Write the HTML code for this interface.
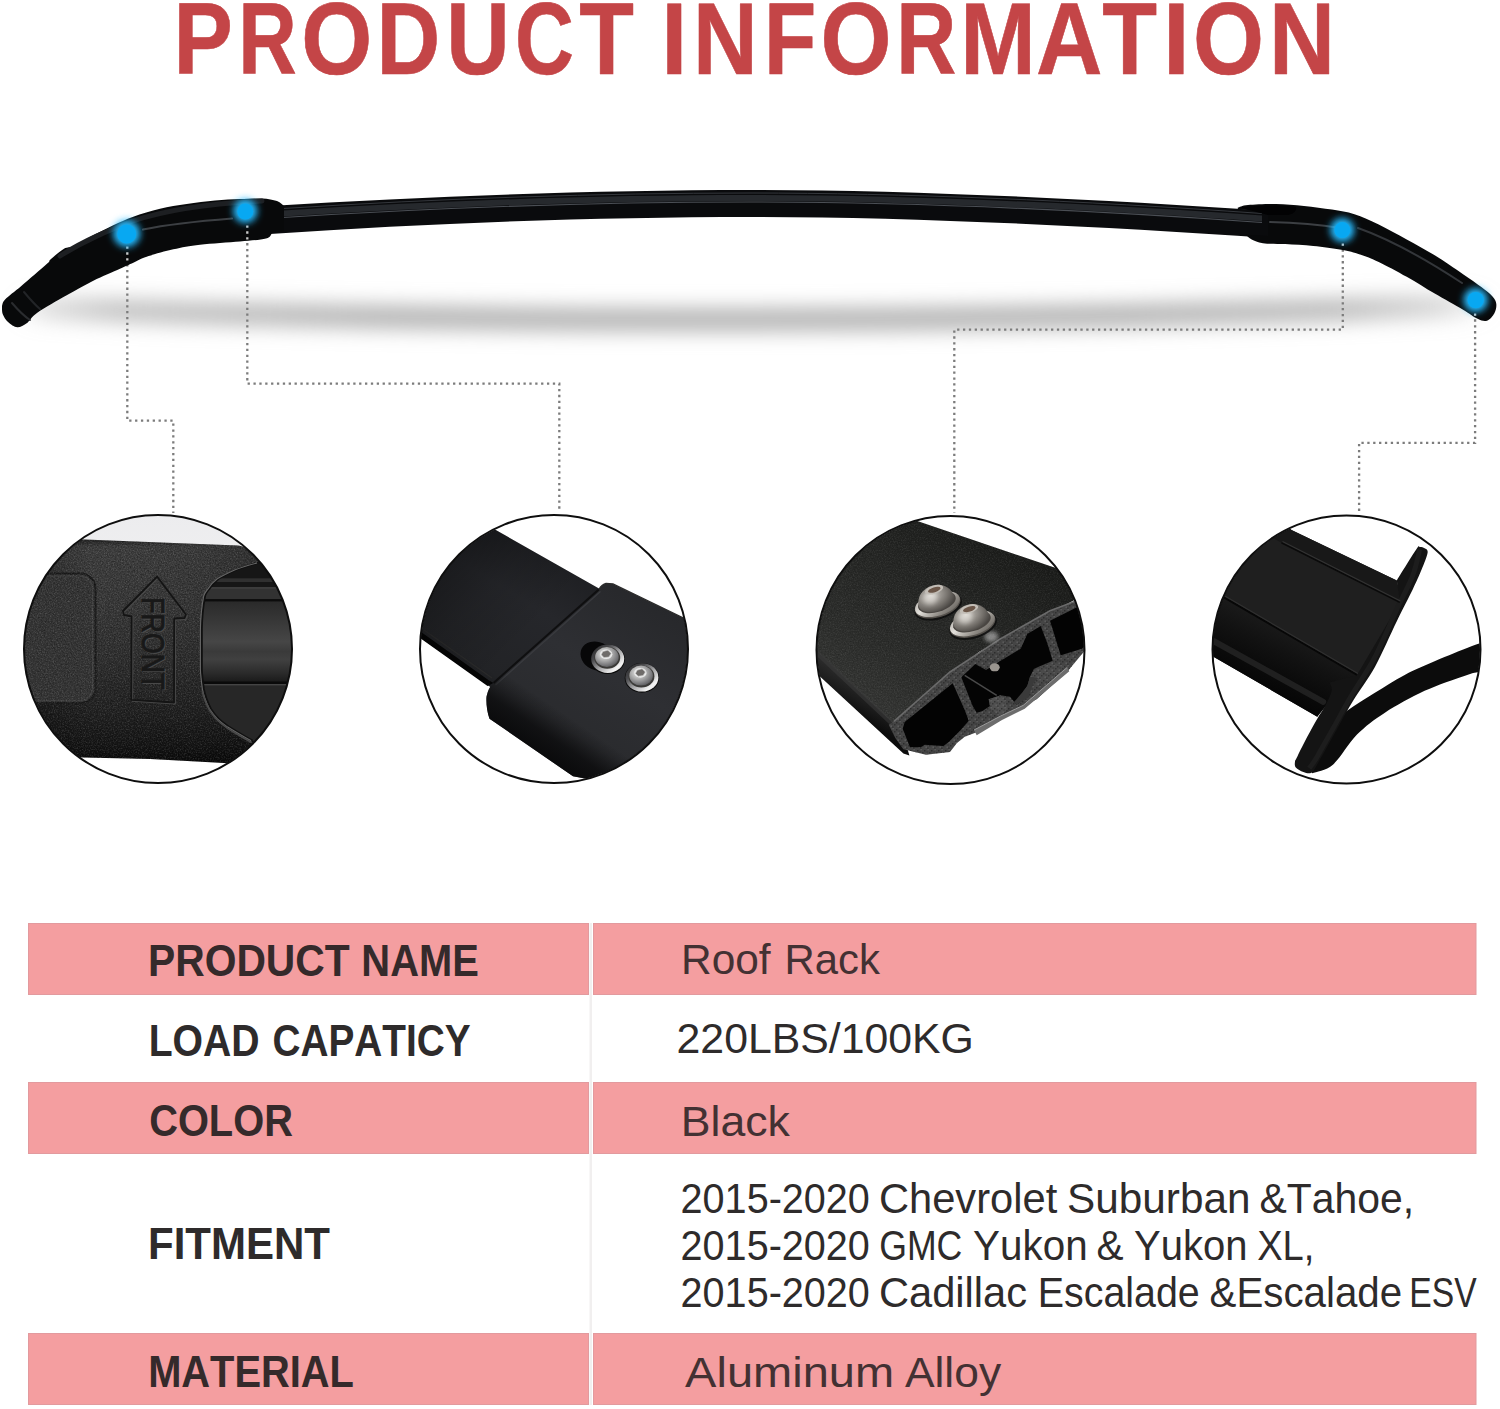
<!DOCTYPE html>
<html lang="en">
<head>
<meta charset="utf-8">
<title>Product Information - Roof Rack</title>
<style>
  html, body { margin: 0; padding: 0; background: #ffffff; }
  body { width: 1500px; height: 1409px; overflow: hidden; font-family: "Liberation Sans", sans-serif; }
  svg { display: block; position: absolute; left: 0; top: 0; }
  text { font-family: "Liberation Sans", sans-serif; font-kerning: none; }
  .lbl { font-weight: bold; font-size: 43.6px; fill: #2e2b2b; }
  .val { font-weight: normal; font-size: 42px; fill: #2e2b2b; }
  .valp { fill: #433133; }
  .lblp { fill: #352a2b; }
</style>
</head>
<body>
<svg width="1500" height="1409" viewBox="0 0 1500 1409">
  <defs>
    <!-- SHADOW -->
    <linearGradient id="shadowGrad" gradientUnits="userSpaceOnUse" x1="30" y1="0" x2="1480" y2="0">
      <stop offset="0" stop-color="#b3b3b3" stop-opacity="0.35"/>
      <stop offset="0.06" stop-color="#b3b3b3" stop-opacity="0.8"/>
      <stop offset="0.25" stop-color="#b3b3b3" stop-opacity="1"/>
      <stop offset="0.75" stop-color="#b3b3b3" stop-opacity="1"/>
      <stop offset="0.9" stop-color="#b3b3b3" stop-opacity="0.9"/>
      <stop offset="0.97" stop-color="#b3b3b3" stop-opacity="0.55"/>
      <stop offset="1" stop-color="#b3b3b3" stop-opacity="0.15"/>
    </linearGradient>
    <filter id="blurShadow" filterUnits="userSpaceOnUse" x="-60" y="230" width="1620" height="170">
      <feGaussianBlur stdDeviation="14 10"/>
    </filter>
    <filter id="glow" x="-100%" y="-100%" width="300%" height="300%">
      <feGaussianBlur stdDeviation="3.6"/>
    </filter>
    <radialGradient id="dot">
      <stop offset="0" stop-color="#0aa8f5"/>
      <stop offset="0.55" stop-color="#0aa4f2"/>
      <stop offset="0.8" stop-color="#1ab0f6" stop-opacity="0.75"/>
      <stop offset="1" stop-color="#39c0ff" stop-opacity="0"/>
    </radialGradient>
    <!-- GRAIN -->
    <filter id="grainL" x="0" y="0" width="100%" height="100%" color-interpolation-filters="sRGB">
      <feTurbulence type="fractalNoise" baseFrequency="0.75" numOctaves="2" seed="7" result="n"/>
      <feColorMatrix in="n" type="matrix" values="0 0 0 0 1  0 0 0 0 1  0 0 0 0 1  2.2 0 0 0 -0.95"/>
    </filter>
    <filter id="grainD" x="0" y="0" width="100%" height="100%" color-interpolation-filters="sRGB">
      <feTurbulence type="fractalNoise" baseFrequency="0.7" numOctaves="2" seed="23" result="n"/>
      <feColorMatrix in="n" type="matrix" values="0 0 0 0 0  0 0 0 0 0  0 0 0 0 0  2.2 0 0 0 -0.95"/>
    </filter>
    <clipPath id="c1bodyclip"><path d="M20,539 L85,539.5 L238,545.5 C250,547.5 258,555 262,562 L300,580 L300,772 L224,763 L150,759 L83,757.5 L20,752 Z"/></clipPath>
    <!-- C1DEFS -->
    <linearGradient id="c1bg" x1="0" y1="0" x2="0" y2="1">
      <stop offset="0" stop-color="#ececee"/><stop offset="0.2" stop-color="#efeff0"/><stop offset="0.8" stop-color="#f6f6f6"/><stop offset="0.9" stop-color="#ffffff"/>
    </linearGradient>
    <linearGradient id="c1body" gradientUnits="userSpaceOnUse" x1="0" y1="539" x2="0" y2="762">
      <stop offset="0" stop-color="#202020"/><stop offset="0.035" stop-color="#3e3e3e"/><stop offset="0.3" stop-color="#383838"/><stop offset="0.55" stop-color="#2e2e2e"/><stop offset="0.78" stop-color="#202020"/><stop offset="0.93" stop-color="#141414"/><stop offset="1" stop-color="#0a0a0a"/>
    </linearGradient>
    <linearGradient id="c1side" gradientUnits="userSpaceOnUse" x1="20" y1="0" x2="300" y2="0">
      <stop offset="0" stop-color="#000" stop-opacity="0.35"/><stop offset="0.25" stop-color="#000" stop-opacity="0"/><stop offset="0.6" stop-color="#000" stop-opacity="0.05"/><stop offset="1" stop-color="#000" stop-opacity="0.3"/>
    </linearGradient>
    <linearGradient id="c1rail" gradientUnits="userSpaceOnUse" x1="0" y1="601.5" x2="0" y2="682">
      <stop offset="0" stop-color="#2a2a2a"/><stop offset="0.2" stop-color="#353535"/><stop offset="0.5" stop-color="#464646"/><stop offset="0.62" stop-color="#3a3a3a"/><stop offset="0.72" stop-color="#404040"/><stop offset="0.88" stop-color="#2c2c2c"/><stop offset="1" stop-color="#1a1a1a"/>
    </linearGradient>
    <clipPath id="c1openclip"><path d="M300,550 L258.5,562.7 C250,565 243,567 236.6,569.6 C229,573 223,576 218.7,578.6 C214,582 211,586 208.8,589.5 C206,593 205,595 204.8,597.4 C203,607 202,618 201.8,629.2 L201.8,669 C202,676 203,683 203.8,688.9 C205,696 208,703 210.8,708.7 C213,712 216,716 218.7,718.7 C222,722 225,724 228.7,726.6 C236,731 244,736 252.5,740.5 L300,760 Z"/></clipPath>
    <linearGradient id="c2front" gradientUnits="userSpaceOnUse" x1="528" y1="749" x2="556" y2="708">
      <stop offset="0" stop-color="#050506" stop-opacity="0.8"/><stop offset="0.45" stop-color="#050506" stop-opacity="0.62"/><stop offset="0.8" stop-color="#050506" stop-opacity="0.2"/><stop offset="1" stop-color="#050506" stop-opacity="0"/>
    </linearGradient>
    <linearGradient id="c2raildark" gradientUnits="userSpaceOnUse" x1="440" y1="520" x2="540" y2="620">
      <stop offset="0" stop-color="#000" stop-opacity="0.45"/><stop offset="0.6" stop-color="#000" stop-opacity="0.12"/><stop offset="1" stop-color="#000" stop-opacity="0"/>
    </linearGradient>
    <!-- C2DEFS -->
    <linearGradient id="c2rail" gradientUnits="userSpaceOnUse" x1="560" y1="540" x2="470" y2="690">
      <stop offset="0" stop-color="#1c1d20"/><stop offset="0.4" stop-color="#26272b"/><stop offset="0.85" stop-color="#222326"/><stop offset="1" stop-color="#17181a"/>
    </linearGradient>
    <linearGradient id="c2br" gradientUnits="userSpaceOnUse" x1="640" y1="590" x2="540" y2="760">
      <stop offset="0" stop-color="#27282b"/><stop offset="0.45" stop-color="#2e2f33"/><stop offset="0.8" stop-color="#2a2b2e"/><stop offset="1" stop-color="#1d1e20"/>
    </linearGradient>
    <linearGradient id="scrRing" x1="0" y1="0" x2="1" y2="1">
      <stop offset="0" stop-color="#1f1f21"/><stop offset="0.3" stop-color="#4a4a4d"/><stop offset="0.55" stop-color="#a9a9ab"/><stop offset="0.8" stop-color="#f4f4f4"/><stop offset="1" stop-color="#c9c9c9"/>
    </linearGradient>
    <radialGradient id="scrHead" cx="0.4" cy="0.35" r="0.75">
      <stop offset="0" stop-color="#f4f4f4"/><stop offset="0.4" stop-color="#b3b3b3"/><stop offset="0.75" stop-color="#77777a"/><stop offset="1" stop-color="#4a4a4c"/>
    </radialGradient>
    <clipPath id="c3topclip"><path d="M869.6,490.1 L917.3,520.9 L1054.4,567.6 L1092.2,585.5 L1077.3,598.4 L978.9,652.1 L895.5,725.6 L814.0,649.1 L800.1,609.4 Z"/></clipPath>
    <!-- C3DEFS -->
    <linearGradient id="c3top" gradientUnits="userSpaceOnUse" x1="1000" y1="530" x2="880" y2="720">
      <stop offset="0" stop-color="#1b1c1a"/><stop offset="0.35" stop-color="#242523"/><stop offset="0.75" stop-color="#2d2e2c"/><stop offset="1" stop-color="#363735"/>
    </linearGradient>
    <linearGradient id="c3side" gradientUnits="userSpaceOnUse" x1="870" y1="690" x2="855" y2="715">
      <stop offset="0" stop-color="#2a2a2a"/><stop offset="0.5" stop-color="#1c1c1c"/><stop offset="1" stop-color="#0c0c0c"/>
    </linearGradient>
    <linearGradient id="dFl" x1="0" y1="0" x2="1" y2="1">
      <stop offset="0" stop-color="#a8a49e"/><stop offset="0.35" stop-color="#e2dfda"/><stop offset="0.7" stop-color="#8f8b85"/><stop offset="1" stop-color="#5a5651"/>
    </linearGradient>
    <radialGradient id="dDome" cx="0.4" cy="0.35" r="0.75">
      <stop offset="0" stop-color="#d6d3ce"/><stop offset="0.3" stop-color="#a39f99"/><stop offset="0.65" stop-color="#726e69"/><stop offset="1" stop-color="#3f3c39"/>
    </radialGradient>
    <filter id="soft2" x="-50%" y="-50%" width="200%" height="200%"><feGaussianBlur stdDeviation="2"/></filter>
    <pattern id="spk" width="7" height="7" patternUnits="userSpaceOnUse">
      <rect width="7" height="7" fill="none"/>
      <rect x="0" y="1" width="1.5" height="1.5" fill="#1c1c1c"/><rect x="3.5" y="0" width="1.300" height="1.300" fill="#6e6e6e"/>
      <rect x="5" y="3" width="1.5" height="1.5" fill="#222"/><rect x="1.5" y="4.500" width="1.400" height="1.400" fill="#707070"/>
      <rect x="3.200" y="5.500" width="1.300" height="1.300" fill="#1a1a1a"/><rect x="2.500" y="2.400" width="1.200" height="1.200" fill="#262626"/>
    </pattern>
    <!-- C4DEFS -->
    <linearGradient id="c4low" gradientUnits="userSpaceOnUse" x1="1290" y1="630" x2="1262" y2="688">
      <stop offset="0" stop-color="#1a1a1a"/><stop offset="0.35" stop-color="#121212"/><stop offset="0.7" stop-color="#0b0b0b"/><stop offset="1" stop-color="#060606"/>
    </linearGradient>
    <clipPath id="c1"><circle cx="158" cy="649" r="133.5"/></clipPath>
    <clipPath id="c2"><circle cx="554" cy="649" r="133.5"/></clipPath>
    <clipPath id="c3"><circle cx="950.5" cy="650" r="133.5"/></clipPath>
    <clipPath id="c4"><circle cx="1346.5" cy="649.5" r="133.5"/></clipPath>
  </defs>

  <!-- TITLE -->
  <g id="title" font-size="101.6" font-weight="bold" fill="#c44547" stroke="#c44547" stroke-width="0.6" stroke-linejoin="round">
    <text x="173.45" y="73.5" textLength="59.28" lengthAdjust="spacingAndGlyphs">P</text>
    <text x="238.18" y="73.5" textLength="58.48" lengthAdjust="spacingAndGlyphs">R</text>
    <text x="301.26" y="73.5" textLength="70.97" lengthAdjust="spacingAndGlyphs">O</text>
    <text x="376.4" y="73.5" textLength="63.71" lengthAdjust="spacingAndGlyphs">D</text>
    <text x="446.32" y="73.5" textLength="63.44" lengthAdjust="spacingAndGlyphs">U</text>
    <text x="515.06" y="73.5" textLength="58.87" lengthAdjust="spacingAndGlyphs">C</text>
    <text x="579.29" y="73.5" textLength="54.67" lengthAdjust="spacingAndGlyphs">T</text>
    <text x="661.23" y="73.5" textLength="26.04" lengthAdjust="spacingAndGlyphs">I</text>
    <text x="693.0" y="73.5" textLength="64.74" lengthAdjust="spacingAndGlyphs">N</text>
    <text x="763.88" y="73.5" textLength="52.26" lengthAdjust="spacingAndGlyphs">F</text>
    <text x="820.56" y="73.5" textLength="70.97" lengthAdjust="spacingAndGlyphs">O</text>
    <text x="896.14" y="73.5" textLength="60.07" lengthAdjust="spacingAndGlyphs">R</text>
    <text x="960.23" y="73.5" textLength="75.53" lengthAdjust="spacingAndGlyphs">M</text>
    <text x="1036.01" y="73.5" textLength="66.52" lengthAdjust="spacingAndGlyphs">A</text>
    <text x="1102.29" y="73.5" textLength="54.77" lengthAdjust="spacingAndGlyphs">T</text>
    <text x="1163.09" y="73.5" textLength="26.62" lengthAdjust="spacingAndGlyphs">I</text>
    <text x="1192.96" y="73.5" textLength="70.97" lengthAdjust="spacingAndGlyphs">O</text>
    <text x="1268.98" y="73.5" textLength="66.09" lengthAdjust="spacingAndGlyphs">N</text>
  </g>

  <!-- BAR-SHADOW -->
  <g id="barshadow">
    <g filter="url(#blurShadow)">
      <path d="M40,308 Q750,333 1470,305" fill="none" stroke="url(#shadowGrad)" stroke-width="23" stroke-linecap="round"/>
    </g>
  </g>

  <!-- CALLOUT-LINES -->
  <g id="lines" fill="none" stroke="#7c7c7c" stroke-width="2.3" stroke-dasharray="2.3 3.57">
    <path d="M127.3,246.5 V420.7 H173.3 V513"/>
    <path d="M247.3,225.5 V383.7 H559.3 V512"/>
    <path d="M1342.8,243.5 V329.7 H954.3 V513"/>
    <path d="M1475.1,313.5 V442.8 H1359.1 V512.5"/>
  </g>

  <!-- BAR -->
  <g id="bar">
    <!-- main rail -->
    <path d="M270,206 C430,196 600,190 750,190 C900,190 1080,198 1270,211 L1270,238 C1080,225 900,217 750,217 C600,217 430,223 270,234 Z" fill="#0a0b0d"/>
    <path d="M283,210.5 C440,200.5 600,195 750,195 C900,195 1080,202.5 1262,215.5 L1262,221.5 C1080,208.5 900,201 750,201 C600,201 440,206.5 283,216.5 Z" fill="#26292d"/>
    <path d="M283,217.5 C440,207.5 600,202 750,202 C900,202 1080,209.5 1262,222.5" fill="none" stroke="#4a4e54" stroke-width="1.2"/>
    <path d="M283,208.5 C440,198.5 600,193 750,193 C900,193 1080,200.5 1262,213.5" fill="none" stroke="#34373c" stroke-width="1"/>
    <!-- left foot -->
    <path d="M2.0,306.0 C2.5,304.9 2.1,302.6 5.3,299.3 C8.5,296.0 14.4,291.9 21.3,286.0 C28.2,280.1 41.8,268.4 46.7,264.0 C51.6,259.6 47.8,261.9 50.7,259.3 C53.6,256.8 60.0,250.9 64.0,248.7 C68.0,246.5 69.8,248.2 74.7,246.0 C79.6,243.8 86.9,238.8 93.3,235.3 C99.7,231.9 106.6,228.4 113.3,225.3 C120.0,222.2 125.5,219.5 133.3,216.7 C141.1,213.9 151.1,210.8 160.0,208.7 C168.9,206.6 177.5,205.4 186.7,204.0 C195.9,202.6 206.1,201.3 215.0,200.5 C223.9,199.7 232.2,199.3 240.0,199.0 C247.8,198.7 255.8,198.2 262.0,198.5 C268.2,198.8 273.3,199.8 277.0,201.0 C280.7,202.2 282.8,205.2 284.0,206.0 L284,231 L272.0,233.0 C271.0,233.9 271.3,237.1 266.0,238.5 C260.7,239.9 251.0,240.5 240.0,241.5 C229.0,242.5 211.1,243.4 200.0,244.7 C188.9,246.0 182.2,247.3 173.3,249.3 C164.4,251.3 153.4,254.5 146.7,256.7 C140.0,258.9 137.8,260.7 133.3,262.7 C128.9,264.7 126.7,265.7 120.0,268.7 C113.3,271.7 102.2,276.3 93.3,280.7 C84.4,285.1 76.0,290.0 66.7,295.3 C57.4,300.6 44.0,308.0 37.3,312.7 C30.6,317.4 30.0,320.9 26.7,323.3 C23.4,325.7 20.4,327.5 17.3,327.3 C14.2,327.1 10.4,324.2 8.0,322.0 C5.6,319.8 3.7,316.7 2.7,314.0 C1.7,311.3 2.1,307.3 2.0,306.0 Z" fill="#08090a"/>
    <path d="M60,256 C85,240 110,230 133,221 C160,212 200,204 262,201" fill="none" stroke="#1d1f22" stroke-width="5" stroke-linecap="round"/>
    <path d="M143,229.5 C170,224 200,221 232,218.5" fill="none" stroke="#3c3f43" stroke-width="2.2" stroke-linecap="round"/>
    <path d="M12,303 C18,310 24,316 30,320" fill="none" stroke="#2a2c2f" stroke-width="2" stroke-linecap="round"/>
    <path d="M24,292 C29,298 34,304 40,309" fill="none" stroke="#222427" stroke-width="2" stroke-linecap="round"/>
    <!-- right foot -->
    <path d="M1237.7,207.7 C1239.4,207.2 1241.6,205.6 1248.0,205.0 C1254.4,204.4 1266.7,203.8 1276.0,204.0 C1285.3,204.2 1294.7,205.0 1304.0,205.9 C1313.3,206.8 1323.6,208.2 1332.0,209.6 C1340.4,211.0 1346.6,211.8 1354.4,214.3 C1362.2,216.8 1370.0,220.3 1378.7,224.5 C1387.4,228.7 1397.4,234.4 1406.7,239.5 C1416.0,244.6 1425.4,249.6 1434.7,255.3 C1444.0,261.1 1454.9,268.7 1462.7,274.0 C1470.5,279.3 1476.3,283.3 1481.3,287.0 C1486.3,290.7 1490.0,293.6 1492.5,296.4 C1495.0,299.2 1496.0,301.1 1496.3,303.9 C1496.6,306.7 1496.0,310.4 1494.4,313.2 C1492.9,316.0 1489.8,319.8 1487.0,320.7 C1484.2,321.6 1481.6,320.7 1477.6,318.8 C1473.5,316.9 1469.8,313.7 1462.7,309.5 C1455.6,305.3 1444.0,299.1 1434.7,293.6 C1425.4,288.2 1416.0,282.1 1406.7,276.8 C1397.4,271.5 1386.5,265.6 1378.7,261.9 C1370.9,258.2 1366.2,256.4 1360.0,254.4 C1353.8,252.4 1349.1,251.1 1341.3,249.7 C1333.5,248.3 1322.6,246.9 1313.3,246.0 C1304.0,245.1 1293.7,244.6 1285.3,244.1 C1276.9,243.6 1268.6,244.0 1263.0,243.2 C1257.4,242.4 1254.5,240.9 1251.7,239.5 C1248.9,238.1 1247.0,235.6 1246.0,234.8 L1268,236 L1268,211 L1238,209.5 Z" fill="#08090a"/>
    <path d="M1270,222 C1295,222.5 1320,224.5 1340,228" fill="none" stroke="#3c3f43" stroke-width="2" stroke-linecap="round"/>
    <path d="M1358,228 C1395,241 1430,262 1462,283" fill="none" stroke="#33363a" stroke-width="2" stroke-linecap="round"/>
    <path d="M1240,207.5 C1260,205 1280,205 1296,207 C1297,211 1293,214 1288,215 L1268,215 Z" fill="#020203"/>
  </g>

  <g id="linesOver" fill="none" stroke="#c9c9c9" stroke-width="2.3" stroke-dasharray="2.3 3.57">
    <path d="M127.3,246.5 V264"/>
    <path d="M247.3,225.5 V240"/>
    <path d="M1342.8,243.5 V249"/>
    <path d="M1475.1,313.5 V318"/>
  </g>
  <!-- DOTS -->
  <g id="dots">
    <g filter="url(#glow)" fill="#25b9fc">
      <circle cx="126.7" cy="233.5" r="13.5"/>
      <circle cx="245.3" cy="211" r="12"/>
      <circle cx="1342.3" cy="230" r="12"/>
      <circle cx="1475.7" cy="300" r="12"/>
    </g>
    <g fill="#08a8f2">
      <circle cx="126.7" cy="234" r="9.5"/>
      <circle cx="245.3" cy="211.5" r="8"/>
      <circle cx="1342.3" cy="230.1" r="8"/>
      <circle cx="1475.7" cy="300.1" r="8.2"/>
    </g>
  </g>

  <!-- CIRCLE-1 -->
  <g id="circle1">
    <g clip-path="url(#c1)">
      <rect x="20" y="510" width="280" height="280" fill="url(#c1bg)"/>
      <!-- foot body -->
      <path d="M20,539 L85,539.5 L238,545.5 C250,547.5 258,555 262,562 L300,580 L300,772 L224,763 L150,759 L83,757.5 L20,752 Z" fill="url(#c1body)"/>
      <path d="M20,539 L85,539.5 L238,545.5 C250,547.5 258,555 262,562 L300,580 L300,772 L224,763 L150,759 L83,757.5 L20,752 Z" fill="url(#c1side)"/>
      <!-- left pad -->
      <rect x="0" y="573.6" width="95.5" height="129.5" rx="15" fill="#343434" stroke="#1b1b1b" stroke-width="2"/>
      <rect x="0" y="576" width="92.5" height="124.5" rx="13" fill="none" stroke="#434343" stroke-width="1.2"/>
      <g clip-path="url(#c1bodyclip)">
        <rect x="20" y="535" width="285" height="240" filter="url(#grainL)" opacity="0.16"/>
        <rect x="20" y="535" width="285" height="240" filter="url(#grainD)" opacity="0.35"/>
      </g>
      <!-- rail inside opening -->
      <path id="c1open" d="M300,550 L258.5,562.7 C250,565 243,567 236.6,569.6 C229,573 223,576 218.7,578.6 C214,582 211,586 208.8,589.5 C206,593 205,595 204.8,597.4 C203,607 202,618 201.8,629.2 L201.8,669 C202,676 203,683 203.8,688.9 C205,696 208,703 210.8,708.7 C213,712 216,716 218.7,718.7 C222,722 225,724 228.7,726.6 C236,731 244,736 252.5,740.5 L300,760 Z" fill="#1b1b1b"/>
      <g clip-path="url(#c1openclip)">
        <rect x="195" y="555" width="110" height="50" fill="#161616"/>
        <rect x="195" y="578.3" width="110" height="3.7" fill="#303030"/>
        <rect x="195" y="587.3" width="110" height="12" fill="#323232"/>
        <rect x="195" y="587.3" width="110" height="1.2" fill="#454545"/>
        <rect x="195" y="599.2" width="110" height="2.4" fill="#0c0c0c"/>
        <rect x="195" y="601.5" width="110" height="80.500" fill="url(#c1rail)"/>
        <rect x="195" y="681.5" width="110" height="2.500" fill="#0a0a0a"/>
        <rect x="195" y="684" width="110" height="80" fill="#272727"/>
        <rect x="195" y="684" width="110" height="1.400" fill="#444"/>
      </g>
      <path d="M258.5,562.7 C250,565 243,567 236.6,569.6 C229,573 223,576 218.7,578.6 C214,582 211,586 208.8,589.5 C206,593 205,595 204.8,597.4 C203,607 202,618 201.8,629.2 L201.8,669 C202,676 203,683 203.8,688.9 C205,696 208,703 210.8,708.7 C213,712 216,716 218.7,718.7 C222,722 225,724 228.7,726.6 C236,731 244,736 252.5,740.5" fill="none" stroke="#101010" stroke-width="2"/>
      <path d="M258.5,562.7 C250,565 243,567 236.6,569.6 C229,573 223,576 218.7,578.6 C214,582 211,586 208.8,589.5 C206,593 205,595 204.8,597.4 C203,607 202,618 201.8,629.2 L201.8,669 C202,676 203,683 203.8,688.9 C205,696 208,703 210.8,708.7 C213,712 216,716 218.7,718.7 C222,722 225,724 228.7,726.6 C236,731 244,736 252.5,740.5" fill="none" stroke="#666666" stroke-width="1.1" transform="translate(-1.4,0.2)"/>
      <path d="M204,690 C205.500,697 208.500,704 211.500,709.500 C214,713 217,717 219.500,719.500 C223,723 226,725 229.500,727.500 C237,732 245,737 253.500,741.500" fill="none" stroke="#4a4a4a" stroke-width="1.6" transform="translate(-1.8,1)"/>
      <!-- arrow emboss -->
      <path d="M157.1,576.6 L186,614.5 L184.5,618 L174.2,618.5 L174,702.5 L131.3,699.8 L131.6,616.5 L124,615 L123,611 Z" fill="none" stroke="#484848" stroke-width="1.4" stroke-linejoin="round" transform="translate(1.2,1.2)"/>
      <path d="M157.1,576.6 L186,614.5 L184.5,618 L174.2,618.5 L174,702.5 L131.3,699.8 L131.6,616.5 L124,615 L123,611 Z" fill="none" stroke="#141414" stroke-width="1.8" stroke-linejoin="round"/>
      <!-- FRONT -->
      <g transform="translate(141.8,599.4) rotate(90)" font-weight="normal" font-size="32" stroke-width="0.9">
        <text x="-1.4000000000000001" y="-0.8" textLength="92.31" lengthAdjust="spacingAndGlyphs" fill="#4c4c4c" stroke="#4c4c4c">FRONT</text>
        <text x="-2.2" y="0" textLength="92.31" lengthAdjust="spacingAndGlyphs" fill="#181818" stroke="#181818">FRONT</text>
      </g>
    </g>
    <circle cx="158" cy="649" r="134" fill="none" stroke="#0e0e0e" stroke-width="2"/>
  </g>
  <!-- CIRCLE-2 -->
  <g id="circle2">
    <g clip-path="url(#c2)">
      <rect x="414" y="510" width="280" height="280" fill="#ffffff"/>
      <!-- rail -->
      <path d="M400,475.8 L600.8,589.5 L640,612 L500,694 L487.5,684.9 L423,639.5 C420,637 419,634 419,631 L400,600 Z" fill="url(#c2rail)"/>
      <path d="M421,632 L489,680.5 L493.500,683 L487.500,686 L420,638 Z" fill="#050505"/>
      <path d="M424,630 L492,678" fill="none" stroke="#2a2a2a" stroke-width="1.2"/>
      <!-- bracket -->
      <path d="M598.8,589.5 C601,586 603,584 606,583.5 L613,583.9 L700,626 L700,800 L573,776.3 L489.5,718.7 C487,712 486,703 486.5,696.8 C488,690 490,686 493.5,682.9 Z" fill="url(#c2br)"/>
      <path d="M598.8,589.5 C601,586 603,584 606,583.5 L613,583.9 L700,626" fill="none" stroke="#2c2c2c" stroke-width="1.3"/>
      <path d="M493.500,683 L598.800,589.500" fill="none" stroke="#0f0f10" stroke-width="2.2"/>
      <path d="M495.500,685 L600.500,591.500" fill="none" stroke="#3a3b3f" stroke-width="1.2"/>
      <path d="M598.8,589.5 C601,586 603,584 606,583.5 L613,583.9 L700,626 L700,800 L573,776.3 L489.5,718.7 C487,712 486,703 486.5,696.8 C488,690 490,686 493.5,682.9 Z" fill="url(#c2front)"/>
      <path d="M400,475.8 L600.8,589.5 L500,694 L400,623 Z" fill="url(#c2raildark)"/>
      <!-- slot -->
      <ellipse cx="597" cy="656" rx="17" ry="14" fill="#070708" transform="rotate(25 597 656)"/>
      <!-- screws -->
      <g transform="translate(607.7,658.8)">
        <ellipse cx="0" cy="0.500" rx="17.2" ry="14.800" fill="#0a0a0a"/>
        <ellipse cx="0" cy="0" rx="16.500" ry="14.200" fill="url(#scrRing)"/>
        <ellipse cx="-0.500" cy="-1" rx="13" ry="11" fill="#3b3a38"/>
        <ellipse cx="-0.800" cy="-1.800" rx="11.800" ry="10" fill="url(#scrHead)"/>
        <ellipse cx="-1.500" cy="-4.500" rx="6.200" ry="4.800" fill="#eeeeee" opacity="0.9"/>
        <path d="M-4.800,-7.200 L0.200,-8.600 L3.400,-5.400 L1.200,-1.800 L-3.800,-1.200 L-6.400,-4 Z" fill="#6f6c6a" stroke="#c8c8c8" stroke-width="0.6"/>
      </g>
      <g transform="translate(641.9,677.4)">
        <ellipse cx="0" cy="0.500" rx="17.2" ry="14.800" fill="#0a0a0a"/>
        <ellipse cx="0" cy="0" rx="16.500" ry="14.200" fill="url(#scrRing)"/>
        <ellipse cx="-0.500" cy="-1" rx="13" ry="11" fill="#3b3a38"/>
        <ellipse cx="-0.800" cy="-1.800" rx="11.800" ry="10" fill="url(#scrHead)"/>
        <ellipse cx="-1.500" cy="-4.500" rx="6.200" ry="4.800" fill="#eeeeee" opacity="0.9"/>
        <path d="M-4.800,-7.200 L0.200,-8.600 L3.400,-5.400 L1.200,-1.800 L-3.800,-1.200 L-6.400,-4 Z" fill="#6f6c6a" stroke="#c8c8c8" stroke-width="0.6"/>
      </g>
    </g>
    <circle cx="554" cy="649" r="134" fill="none" stroke="#0e0e0e" stroke-width="2"/>
  </g>
  <!-- CIRCLE-3 -->
  <g id="circle3">
    <g clip-path="url(#c3)">
      <rect x="810" y="510" width="282" height="282" fill="#ffffff"/>
      <path d="M814.0,647.1 L895.5,724.6 L901.4,728.6 L909.4,755.4 L903.4,753.4 L814.0,671.0 Z" fill="url(#c3side)"/>
      <path d="M869.6,490.1 L917.3,520.9 L1054.4,567.6 L1092.2,585.5 L1077.3,598.4 L978.9,652.1 L895.5,725.6 L814.0,649.1 L800.1,609.4 Z" fill="url(#c3top)"/>
      <g clip-path="url(#c3topclip)">
        <rect x="812" y="512" width="280" height="240" filter="url(#grainL)" opacity="0.09"/>
        <rect x="812" y="512" width="280" height="240" filter="url(#grainD)" opacity="0.2"/>
      </g>
      <path d="M814.0,650.1 L895.9,727.0" fill="none" stroke="#3d3d3d" stroke-width="5" opacity="0.55"/>
      <!-- extrusion profile -->
      <path d="M888.7,724.7 L894.0,721.3 L950.0,672.0 L1000.7,638.7 L1050.0,610.7 L1082.0,598.7 L1103.3,590.0 L1103.3,630.0 L1082.0,654.0 L1068.7,670.0 L1036.7,699.3 L1023.3,706.0 L999.3,718.0 L975.3,732.7 L964.7,736.7 L956.7,743.3 L950.0,752.0 L926.0,754.7 L903.3,749.3 L895.3,738.0 Z" fill="#454545"/>
      <path d="M888.7,724.7 L894.0,721.3 L950.0,672.0 L1000.7,638.7 L1050.0,610.7 L1082.0,598.7 L1103.3,590.0 L1103.3,630.0 L1082.0,654.0 L1068.7,670.0 L1036.7,699.3 L1023.3,706.0 L999.3,718.0 L975.3,732.7 L964.7,736.7 L956.7,743.3 L950.0,752.0 L926.0,754.7 L903.3,749.3 L895.3,738.0 Z" fill="url(#spk)" opacity="0.6"/>
      <path d="M904.7,722.0 L952.7,683.3 L964.7,710.0 L968.7,720.7 L960.7,730.0 L948.7,742.0 L943.3,746.0 L924.7,744.7 L920.7,747.3 L910.0,747.3 L902.7,728.7 Z" fill="#030303"/>
      <path d="M961.3,677.3 L975.3,664.0 L986.0,670.0 L1000.7,660.7 L1020.7,648.7 L1027.3,634.0 L1040.7,626.0 L1047.3,643.3 L1052.7,660.7 L1034.0,668.7 L1030.0,676.7 L1027.3,686.0 L1023.3,691.3 L1027.3,696.7 L1016.7,704.7 L1010.0,696.7 L1000.7,695.3 L988.7,699.3 L990.0,706.0 L982.0,711.3 L976.7,712.7 L972.7,706.0 Z" fill="#040404"/>
      <path d="M1050.0,620.7 L1082.0,604.7 L1103.3,595.3 L1103.3,624.7 L1082.0,648.7 L1060.7,655.3 Z" fill="#030303"/>
      <path d="M1034.0,670.0 L1052.7,662.7 L1067.3,666.7 L1068.7,670.0 L1050.0,680.7 L1036.7,685.3 L1033.3,683.3 L1038.0,678.0 L1030.0,678.0 Z" fill="#4a4a4a"/>
      <path d="M1034.0,670.0 L1052.7,662.7 L1067.3,666.7 L1068.7,670.0 L1050.0,680.7 L1036.7,685.3 L1033.3,683.3 L1038.0,678.0 L1030.0,678.0 Z" fill="url(#spk)" opacity="0.55"/>
      <path d="M988.7,699.3 L1000.7,695.3 L1007.3,704.7 L1007.3,710.0 L1000.7,715.3 L991.3,710.0 L990.0,706.0 Z" fill="#505050"/>
      <path d="M988.7,699.3 L1000.7,695.3 L1007.3,704.7 L1007.3,710.0 L1000.7,715.3 L991.3,710.0 L990.0,706.0 Z" fill="url(#spk)" opacity="0.55"/>
      <path d="M1023.3,691.3 L1027.3,686.0 L1030.0,676.7 L1038.0,678.0 L1033.3,683.3 L1031.3,688.7 L1028.7,696.7 L1016.7,704.7 L1014.0,702.0 Z" fill="#3a3a3a"/>
      <path d="M974.0,730.0 L1000.7,716.0 L1023.3,705.3 L1067.3,667.3 L1069.3,671.3 L1024.7,708.7 L1002.0,720.0 L976.7,735.3 Z" fill="#6c6c6c"/>
      <path d="M974.0,730.0 L1000.7,716.0 L1023.3,705.3 L1067.3,667.3" fill="none" stroke="#9a9a9a" stroke-width="1"/>
      <path d="M964.7,675.3 L996.7,695.3" fill="none" stroke="#4a4a4a" stroke-width="1.4"/>
      <path d="M894.0,721.3 L950.0,672.0 L1000.7,638.7 L1050.0,610.7 L1082.0,598.7" fill="none" stroke="#6a6a6a" stroke-width="1.6"/>
      <!-- screw tip inside -->
      <ellipse cx="994.7" cy="667.3" rx="5" ry="4" fill="#9a958f"/>
      <!-- reflection on surface -->
      <ellipse cx="991.3" cy="636.7" rx="7" ry="5.500" fill="#c9c9c9" opacity="0.6" filter="url(#soft2)"/>
      <!-- screws -->
      <g transform="translate(936,599.5) rotate(-17)">
        <ellipse cx="0" cy="7.500" rx="24.500" ry="12.500" fill="#0b0b0b" opacity="0.8"/>
        <ellipse cx="0" cy="6" rx="23.500" ry="12" fill="#55514c"/>
        <ellipse cx="0" cy="4.800" rx="23.200" ry="11.600" fill="url(#dFl)"/>
        <ellipse cx="0" cy="3" rx="19.500" ry="9.600" fill="#4a4642"/>
        <path d="M-18.500,2 C-18,-8 -10,-14.500 0,-14.500 C10,-14.500 18,-8 18.500,2 C18,8 10,11.500 0,11.500 C-10,11.500 -18,8 -18.500,2 Z" fill="url(#dDome)"/>
        <ellipse cx="-5" cy="-3" rx="7" ry="6" fill="#e9e6e1" opacity="0.55" filter="url(#soft2)"/>
        <ellipse cx="1" cy="-10" rx="9.500" ry="4.200" fill="#c2bdb6"/>
        <ellipse cx="1.200" cy="-9.800" rx="6.500" ry="2.500" fill="#6b5648"/>
      </g>
      <g transform="translate(971,618.8) rotate(-17)">
        <ellipse cx="0" cy="7.500" rx="24.500" ry="12.500" fill="#0b0b0b" opacity="0.8"/>
        <ellipse cx="0" cy="6" rx="23.500" ry="12" fill="#55514c"/>
        <ellipse cx="0" cy="4.800" rx="23.200" ry="11.600" fill="url(#dFl)"/>
        <ellipse cx="0" cy="3" rx="19.500" ry="9.600" fill="#4a4642"/>
        <path d="M-18.500,2 C-18,-8 -10,-14.500 0,-14.500 C10,-14.500 18,-8 18.500,2 C18,8 10,11.500 0,11.500 C-10,11.500 -18,8 -18.500,2 Z" fill="url(#dDome)"/>
        <ellipse cx="-5" cy="-3" rx="7" ry="6" fill="#e9e6e1" opacity="0.55" filter="url(#soft2)"/>
        <ellipse cx="1" cy="-10" rx="9.500" ry="4.200" fill="#c2bdb6"/>
        <ellipse cx="1.200" cy="-9.800" rx="6.500" ry="2.500" fill="#6b5648"/>
      </g>
    </g>
    <circle cx="950.5" cy="650" r="134" fill="none" stroke="#0e0e0e" stroke-width="2"/>
  </g>
  <!-- CIRCLE-4 -->
  <g id="circle4">
    <g clip-path="url(#c4)">
      <rect x="1206" y="510" width="282" height="282" fill="#ffffff"/>
      <path d="M1504.1,637.2 C1500.1,638.2 1490.2,639.8 1480.2,643.1 C1470.3,646.5 1457.1,651.8 1444.5,657.1 C1431.9,662.4 1416.3,669.0 1404.7,674.9 C1393.1,680.9 1384.5,686.9 1374.9,692.8 C1365.3,698.8 1355.4,704.8 1347.1,710.7 C1338.8,716.7 1328.9,725.6 1325.2,728.6 L1305.4,764.4 L1312.3,773.3 C1315.8,771.8 1325.7,770.8 1333.2,764.4 C1340.6,757.9 1348.4,743.2 1357.0,734.6 C1365.6,726.0 1373.6,720.0 1384.9,712.7 C1396.1,705.4 1411.4,697.0 1424.6,690.8 C1437.8,684.7 1455.4,679.1 1464.3,675.9 C1473.3,672.8 1471.6,673.5 1478.3,672.0 C1484.9,670.5 1499.8,667.8 1504.1,667.0 Z" fill="#0c0c0c"/>
      <path d="M1245.7,490.1 L1291.5,529.9 L1396.8,580.5 L1402.7,603.4 L1365.0,680.9 L1333.2,688.9 L1317.3,716.7 L1213.9,657.1 L1186.1,629.2 Z" fill="#1f1f1f"/>
      <path d="M1245.7,490.1 L1291.5,529.9 L1396.8,580.5 L1399.8,602.4 L1281.5,542.8 L1255.7,527.9 Z" fill="#181818"/>
      <path d="M1186.1,569.6 L1223.9,597.4 L1357.0,674.9 L1333.2,689.8 L1330.2,700.8 L1317.3,716.7 L1213.9,657.1 L1186.1,639.2 Z" fill="url(#c4low)"/>
      <path d="M1396.8,580.5 C1400.1,575.2 1412.8,554.3 1416.7,548.8 C1420.5,543.2 1418.3,547.1 1419.6,547.0 C1421.0,546.9 1423.3,547.2 1424.6,548.2 C1425.9,549.1 1428.1,549.1 1427.6,552.7 C1427.1,556.3 1424.1,563.5 1421.6,569.6 C1419.1,575.7 1416.8,580.9 1412.7,589.5 C1408.5,598.1 1403.1,608.4 1396.8,621.3 C1390.5,634.2 1382.2,653.7 1374.9,667.0 C1367.6,680.2 1359.7,689.8 1353.1,700.8 C1346.4,711.7 1341.1,722.0 1335.2,732.6 C1329.2,743.2 1321.3,757.7 1317.3,764.4 C1313.3,771.1 1313.6,771.5 1311.3,772.7 C1309.0,774.0 1306.0,772.8 1303.4,771.9 C1300.8,771.0 1297.2,769.1 1295.8,767.4 C1294.4,765.6 1294.8,763.2 1295.0,761.4 C1295.3,759.6 1295.4,760.6 1297.4,756.4 C1299.5,752.3 1304.0,742.8 1307.4,736.6 C1310.7,730.3 1314.3,723.8 1317.3,718.7 C1320.3,713.5 1323.0,709.9 1325.2,705.7 C1327.5,701.6 1329.7,696.8 1330.8,693.8 C1331.9,690.8 1331.8,689.7 1331.6,687.9 C1331.4,686.0 1329.9,683.4 1329.6,682.5 L1357.0,674.9 L1399.8,602.4 Z" fill="#141414"/>
      <path d="M1419.6,549.7 C1418.5,554.1 1416.5,565.6 1412.7,575.6 C1408.9,585.5 1403.1,595.8 1396.8,609.4 C1390.5,622.9 1382.2,643.1 1374.9,657.1 C1367.6,671.0 1359.7,681.6 1353.1,692.8 C1346.4,704.1 1341.1,714.0 1335.2,724.6 C1329.2,735.2 1321.6,749.1 1317.3,756.4 C1313.0,763.7 1310.7,766.4 1309.3,768.3" fill="none" stroke="#1d1d1d" stroke-width="5"/>
      <path d="M1281.5,542.8 L1399.8,602.4" fill="none" stroke="#0a0a0a" stroke-width="1.6"/>
      <path d="M1282.5,541.4 L1400.4,601.0" fill="none" stroke="#333" stroke-width="1.100"/>
      <path d="M1223.9,597.4 L1357.0,674.9" fill="none" stroke="#070707" stroke-width="1.8"/>
      <path d="M1224.9,596.0 L1358.0,673.6" fill="none" stroke="#303030" stroke-width="1.100"/>
      <path d="M1213.9,641.2 L1323.2,701.8" fill="none" stroke="#262626" stroke-width="6" stroke-linecap="round" opacity="0.8"/>
    </g>
    <circle cx="1346.5" cy="649.5" r="134" fill="none" stroke="#0e0e0e" stroke-width="2"/>
  </g>

  <!-- TABLE -->
  <g id="table">
    <!-- faint column divider -->
    <rect x="589.5" y="923" width="2.5" height="482" fill="#f1efef"/>
    <!-- pink rows -->
    <g fill="#f49ea0" stroke="#e29a9e" stroke-width="1">
      <rect x="28.5" y="923.5" width="560" height="71"/>
      <rect x="593.5" y="923.5" width="882.5" height="71"/>
      <rect x="28.5" y="1082.5" width="560" height="71"/>
      <rect x="593.5" y="1082.5" width="882.5" height="71"/>
      <rect x="28.5" y="1333.5" width="560" height="71"/>
      <rect x="593.5" y="1333.5" width="882.5" height="71"/>
    </g>
    <!-- labels -->
    <text class="lbl lblp" x="148.07" y="976" textLength="201.57" lengthAdjust="spacingAndGlyphs">PRODUCT</text>
    <text class="lbl lblp" x="361.33" y="976" textLength="117.43" lengthAdjust="spacingAndGlyphs">NAME</text>
    <text class="lbl" x="148.68" y="1055.5" textLength="110.96" lengthAdjust="spacingAndGlyphs">LOAD</text>
    <text class="lbl" x="272.41" y="1055.5" textLength="198.22" lengthAdjust="spacingAndGlyphs">CAPATICY</text>
    <text class="lbl lblp" x="149.17" y="1136" textLength="143.75" lengthAdjust="spacingAndGlyphs">COLOR</text>
    <text class="lbl" x="147.99" y="1259.2" textLength="181.96" lengthAdjust="spacingAndGlyphs">FITMENT</text>
    <text class="lbl lblp" x="148.14" y="1386.7" textLength="205.79" lengthAdjust="spacingAndGlyphs">MATERIAL</text>
    <!-- values -->
    <text class="val valp" x="681.02" y="974" textLength="89.62" lengthAdjust="spacingAndGlyphs">Roof</text>
    <text class="val valp" x="784.57" y="974" textLength="95.37" lengthAdjust="spacingAndGlyphs">Rack</text>
    <text class="val" x="676.55" y="1052.5" textLength="297.35" lengthAdjust="spacingAndGlyphs">220LBS/100KG</text>
    <text class="val valp" x="680.84" y="1136" textLength="109.09" lengthAdjust="spacingAndGlyphs">Black</text>
    <text class="val" x="680.61" y="1212.6" textLength="189.24" lengthAdjust="spacingAndGlyphs">2015-2020</text>
    <text class="val" x="680.61" y="1260" textLength="189.24" lengthAdjust="spacingAndGlyphs">2015-2020</text>
    <text class="val" x="680.61" y="1307.2" textLength="189.24" lengthAdjust="spacingAndGlyphs">2015-2020</text>
    <text class="val" x="878.88" y="1212.6" textLength="178.42" lengthAdjust="spacingAndGlyphs">Chevrolet</text>
    <text class="val" x="1067.08" y="1212.6" textLength="183.37" lengthAdjust="spacingAndGlyphs">Suburban</text>
    <text class="val" x="1259.56" y="1212.6" textLength="154.61" lengthAdjust="spacingAndGlyphs">&amp;Tahoe,</text>
    <text class="val" x="879.21" y="1260" textLength="83.15" lengthAdjust="spacingAndGlyphs">GMC</text>
    <text class="val" x="973.11" y="1260" textLength="114.51" lengthAdjust="spacingAndGlyphs">Yukon</text>
    <text class="val" x="1096.57" y="1260" textLength="27.06" lengthAdjust="spacingAndGlyphs">&amp;</text>
    <text class="val" x="1134.12" y="1260" textLength="113.48" lengthAdjust="spacingAndGlyphs">Yukon</text>
    <text class="val" x="1257.14" y="1260" textLength="57.29" lengthAdjust="spacingAndGlyphs">XL,</text>
    <text class="val" x="878.88" y="1307.2" textLength="148.21" lengthAdjust="spacingAndGlyphs">Cadillac</text>
    <text class="val" x="1037.77" y="1307.2" textLength="161.98" lengthAdjust="spacingAndGlyphs">Escalade</text>
    <text class="val" x="1209.58" y="1307.2" textLength="192.5" lengthAdjust="spacingAndGlyphs">&amp;Escalade</text>
    <text class="val" x="1409.24" y="1307.2" textLength="67.41" lengthAdjust="spacingAndGlyphs">ESV</text>
    <text class="val valp" x="685.11" y="1387.4" textLength="208.99" lengthAdjust="spacingAndGlyphs">Aluminum</text>
    <text class="val valp" x="904.91" y="1387.4" textLength="96.17" lengthAdjust="spacingAndGlyphs">Alloy</text>
  </g>
</svg>
</body>
</html>
